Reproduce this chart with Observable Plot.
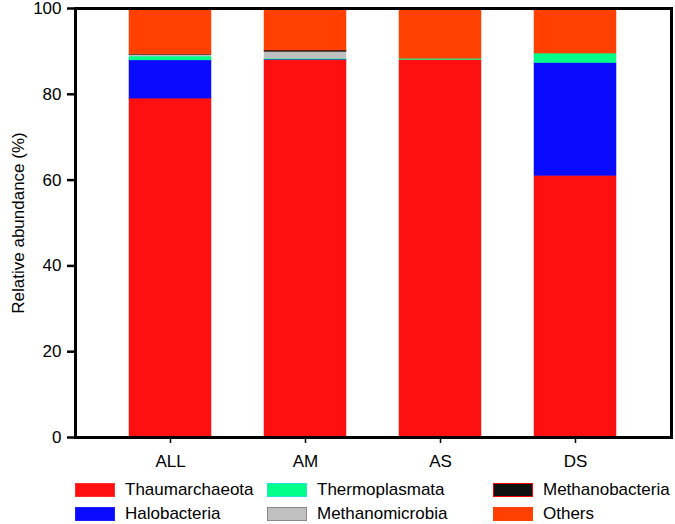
<!DOCTYPE html>
<html><head><meta charset="utf-8">
<script src="https://cdn.jsdelivr.net/npm/d3@7"></script>
<script src="https://cdn.jsdelivr.net/npm/@observablehq/plot@0.6"></script>
<style>
body{margin:0;background:#fff;font-family:"Liberation Sans",Arial,sans-serif;}
#legend{position:relative;width:675px;height:52px;}
.item{position:absolute;display:flex;align-items:center;font-size:17px;line-height:20px;color:#000;}
.sw{width:38px;height:12px;margin-right:10px;border:1px solid;}
</style></head><body>
<div id="chart"></div>
<div id="legend"></div>
<script>
const sites = ["ALL","AM","AS","DS"];
const taxa = ["Thaumarchaeota","Halobacteria","Thermoplasmata","Methanomicrobia","Methanobacteria","Others"];
const colors = ["#ff1010","#0a0aff","#00ff88","#c0c0c0","#111111","#ff4000"];
const borders = ["#ff3030","#2020ff","#20e0e0","#888888","#ff0000","#ff4000"];
const Thaumarchaeota = [79.0, 88.0, 88.0, 61.0];
const Halobacteria   = [8.9, 0.1, 0.0, 26.3];
const Thermoplasmata = [0.9, 0.2, 0.3, 2.2];
const Methanomicrobia= [0.4, 1.6, 0.0, 0.0];
const Methanobacteria= [0.1, 0.3, 0.0, 0.0];
const Others         = [10.7, 9.8, 11.7, 10.5];
const seriesVals = [Thaumarchaeota,Halobacteria,Thermoplasmata,Methanomicrobia,Methanobacteria,Others];
const yTicks = [0,20,40,60,80,100];

const data = [];
sites.forEach((s,i)=>taxa.forEach((t,j)=>data.push({site:s,taxon:t,value:seriesVals[j][i]})));

const chart = Plot.plot({
  width:675, height:472,
  marginTop:8, marginBottom:35, marginLeft:75, marginRight:4,
  style:{fontFamily:"Liberation Sans, Arial, sans-serif", fontSize:"17px", color:"#000", overflow:"visible"},
  x:{domain:sites, padding:0.39, label:null},
  y:{domain:[0,100], label:null},
  color:{domain:taxa, range:colors},
  marks:[
    Plot.barY(data,{x:"site", y:"value", fill:"taxon", stroke:"taxon", strokeWidth:0.5, order:taxa}),
    Plot.axisY({ticks:yTicks, tickSize:8, tickPadding:6, strokeWidth:2.5, fontSize:17,
      label:"Relative abundance (%)", labelAnchor:"center", labelArrow:"none", labelOffset:64}),
    Plot.axisX({tickSize:6, tickPadding:11, strokeWidth:1.5, fontSize:17, label:null}),
    Plot.frame({stroke:"black", strokeWidth:3})
  ]
});
document.getElementById("chart").appendChild(chart);

const pos = [[75,0],[75,1],[267,0],[267,1],[493,0],[493,1]];
const leg = document.getElementById("legend");
taxa.forEach((t,j)=>{
  const d=document.createElement("div");
  d.className="item";
  d.style.left=pos[j][0]+"px";
  d.style.top=(pos[j][1]*24.5+7.5)+"px";
  d.innerHTML=`<span class="sw" style="background:${colors[j]};border-color:${borders[j]}"></span><span>${t}</span>`;
  leg.appendChild(d);
});
</script>
</body></html>
